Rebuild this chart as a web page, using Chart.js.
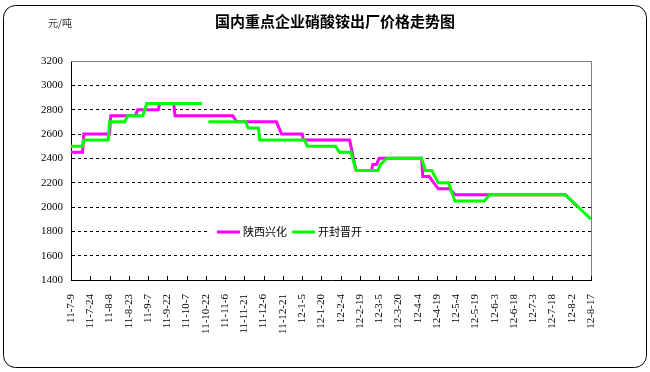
<!DOCTYPE html>
<html>
<head>
<meta charset="utf-8">
<script src="https://cdn.jsdelivr.net/npm/chart.js@4/dist/chart.umd.min.js"></script>
<style>
  body { margin: 0; background: #fff; }
  canvas { display: block; }
</style>
</head>
<body>
<canvas id="myChart" width="650" height="372"></canvas>
<script>
const ctx = document.getElementById('myChart');

// x is days counted from 2011-7-9, one tick label every 15 days
const tickLabels = ['11-7-9', '11-7-24', '11-8-8', '11-8-23', '11-9-7', '11-9-22', '11-10-7', '11-10-22',
    '11-11-6', '11-11-21', '11-12-6', '11-12-21', '12-1-5', '12-1-20', '12-2-4', '12-2-19', '12-3-5',
    '12-3-20', '12-4-4', '12-4-19', '12-5-4', '12-5-19', '12-6-3', '12-6-18', '12-7-3', '12-7-18',
    '12-8-2', '12-8-17'];

const seriesNames = ['陕西兴化', '开封晋开'];

const pinkDays = [0, 9, 10, 30, 31, 50, 52, 68, 69, 80, 81, 126, 129, 160, 164, 180, 181, 217, 222,
    234, 235, 238, 240, 273, 274, 279, 286, 295, 299, 385, 395];
const pinkValues = [2450, 2450, 2600, 2600, 2750, 2750, 2800, 2800, 2850, 2850, 2750, 2750, 2700, 2700,
    2600, 2600, 2550, 2550, 2300, 2300, 2350, 2350, 2400, 2400, 2250, 2250, 2150, 2150, 2100, 2100, 2000];

const greenDays = [0, 9, 10, 29, 30, 42, 44, 56, 59, 102, 104, 107, 136, 138, 146, 147, 182, 184, 206,
    209, 218, 222, 239, 241, 246, 273, 276, 281, 286, 294, 299, 322, 326, 385, 395, 405];
const greenValues = [2500, 2500, 2550, 2550, 2700, 2700, 2750, 2750, 2850, 2850, null, 2700, 2700, 2650,
    2650, 2550, 2550, 2500, 2500, 2450, 2450, 2300, 2300, 2350, 2400, 2400, 2300, 2300, 2200, 2200,
    2050, 2050, 2100, 2100, 2000, 1900];

const toPoints = (days, values) => days.map((d, i) => ({ x: d, y: values[i] }));

// frame, title and unit
const framePlugin = {
    id: 'frame',
    beforeDraw(chart) {
        const c = chart.ctx;
        c.save();
        c.fillStyle = '#fff';
        c.fillRect(0, 0, chart.width, chart.height);
        c.strokeStyle = '#000';
        c.lineWidth = 1;
        c.beginPath();
        c.roundRect(3.5, 5.5, 643, 362, 12);
        c.stroke();
        c.fillStyle = '#000';
        c.textBaseline = 'middle';
        c.textAlign = 'center';
        c.font = 'bold 15px "Noto Sans CJK SC"';
        c.fillText('国内重点企业硝酸铵出厂价格走势图', 335, 21);
        c.textAlign = 'left';
        c.fillStyle = '#333';
        c.font = '10px "Noto Sans CJK SC"';
        c.fillText('元/吨', 48, 23);
        c.restore();
    },
    beforeDatasetsDraw(chart) {
        const c = chart.ctx;
        const a = chart.chartArea;
        c.save();
        c.strokeStyle = '#808080';
        c.lineWidth = 1;
        c.beginPath();
        c.moveTo(a.left, a.top + 0.5);
        c.lineTo(a.right + 0.5, a.top + 0.5);
        c.lineTo(a.right + 0.5, a.bottom);
        c.stroke();
        // small inside ticks on the x axis
        const xs = chart.scales.x;
        c.strokeStyle = '#000';
        c.beginPath();
        xs.ticks.forEach(t => {
            const px = Math.round(xs.getPixelForValue(t.value)) + 0.5;
            c.moveTo(px, a.bottom);
            c.lineTo(px, a.bottom - 4);
        });
        c.stroke();
        c.restore();
    },
    afterDatasetsDraw(chart) {
        const c = chart.ctx;
        const y = 232;
        c.save();
        c.fillStyle = '#fff';
        c.fillRect(208, y - 6, 155, 12);
        const items = [[217, 243], [292, 318]];
        chart.data.datasets.forEach((ds, i) => {
            const [lx, tx] = items[i];
            c.strokeStyle = ds.borderColor;
            c.lineWidth = 3;
            c.beginPath();
            c.moveTo(lx, y);
            c.lineTo(lx + 23, y);
            c.stroke();
            c.fillStyle = '#000';
            c.font = '11px "Noto Sans CJK SC"';
            c.textBaseline = 'middle';
            c.textAlign = 'left';
            c.fillText(ds.label, tx, y);
        });
        c.restore();
    }
};

const config = {
    type: 'line',
    data: {
        datasets: [{
            label: seriesNames[0],
            data: toPoints(pinkDays, pinkValues),
            borderColor: '#FF00FF',
            borderWidth: 3,
            pointRadius: 0,
            tension: 0,
            order: 2
        }, {
            label: seriesNames[1],
            data: toPoints(greenDays, greenValues),
            borderColor: '#00FF00',
            borderWidth: 3,
            pointRadius: 0,
            tension: 0,
            spanGaps: false,
            order: 1
        }]
    },
    options: {
        responsive: false,
        animation: false,
        devicePixelRatio: 1,
        layout: { padding: { left: 0, right: 59, top: 61, bottom: 0 } },
        scales: {
            x: {
                type: 'linear',
                min: 0,
                max: 405,
                afterFit: s => { s.height = 92; },
                ticks: {
                    stepSize: 15,
                    autoSkip: false,
                    minRotation: 90,
                    maxRotation: 90,
                    padding: 6,
                    color: '#000',
                    font: { family: 'Liberation Serif', size: 11 },
                    callback: (v, i) => tickLabels[i]
                },
                grid: { display: false },
                border: { display: true, color: '#000', width: 1 }
            },
            y: {
                min: 1400,
                max: 3200,
                afterFit: s => { s.width = 71; },
                ticks: {
                    stepSize: 200,
                    padding: 8,
                    color: '#000',
                    font: { family: 'Liberation Serif', size: 11 },
                    callback: v => String(v)
                },
                grid: {
                    drawTicks: false,
                    color: c => (c.tick && (c.tick.value === 1400 || c.tick.value === 3200)) ? 'rgba(0,0,0,0)' : '#000'
                },
                border: { display: true, color: '#000', width: 1, dash: [3, 3] }
            }
        },
        plugins: {
            legend: { display: false },
            tooltip: { enabled: false }
        }
    },
    plugins: [framePlugin]
};

const myChart = new Chart(ctx, config);
</script>
</body>
</html>
